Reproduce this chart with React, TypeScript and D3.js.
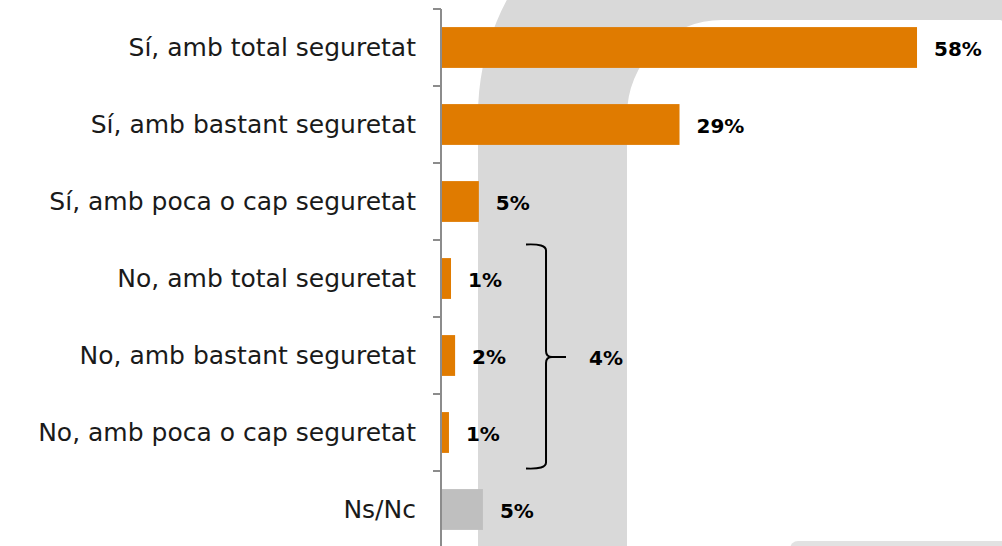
import React from "react";
import * as d3 from "d3";

const categories = [
  "Sí, amb total seguretat",
  "Sí, amb bastant seguretat",
  "Sí, amb poca o cap seguretat",
  "No, amb total seguretat",
  "No, amb bastant seguretat",
  "No, amb poca o cap seguretat",
  "Ns/Nc",
];
const values = [58, 29, 4.5, 1.1, 1.6, 0.85, 5];
const valueLabels = ["58%", "29%", "5%", "1%", "2%", "1%", "5%"];
const barColors = ["#E07B00", "#E07B00", "#E07B00", "#E07B00", "#E07B00", "#E07B00", "#BFBFBF"];
const groupCategories = ["No, amb total seguretat", "No, amb bastant seguretat", "No, amb poca o cap seguretat"];
const groupLabel = "4%";

const W = 1002;
const H = 546;
const FONT = "'DejaVu Sans', sans-serif";

export default function App() {
  const y = d3
    .scaleBand<string>()
    .domain(categories)
    .range([9, 548])
    .paddingInner(0.47)
    .paddingOuter(0.235);
  const x = d3.scaleLinear().domain([0, 100]).range([442, 1261]);
  const bw = y.bandwidth();
  const step = y.step();
  const ticks = d3.range(categories.length + 1).map((i) => 9 + i * step);

  const gTop = (y(groupCategories[0]) as number) + bw / 2 - 34;
  const gBot = (y(groupCategories[2]) as number) + bw / 2 + 36;
  const gMid = (y(groupCategories[1]) as number) + bw / 2 + 1.5;
  const bx = x(12.7);
  const bracket = d3.path();
  bracket.moveTo(bx - 20, gTop);
  bracket.quadraticCurveTo(bx, gTop - 1, bx, gTop + 6);
  bracket.lineTo(bx, gMid - 6);
  bracket.quadraticCurveTo(bx, gMid, bx + 6, gMid);
  bracket.lineTo(bx + 20, gMid);
  bracket.moveTo(bx + 6, gMid);
  bracket.quadraticCurveTo(bx, gMid, bx, gMid + 6);
  bracket.lineTo(bx, gBot - 6);
  bracket.quadraticCurveTo(bx, gBot + 1, bx - 20, gBot);

  return (
    <svg width={W} height={H} style={{ position: "absolute", left: 0, top: 0, background: "#fff" }}>
      <defs>
        <clipPath id="clipAll">
          <rect x={0} y={0} width={W} height={H} />
        </clipPath>
      </defs>
      <g clipPath="url(#clipAll)">
        <path
          fillRule="evenodd"
          fill="#D9D9D9"
          d={
            `M478,${-129 + 244} A244,244 0 0 1 722,-129 L1400,-129 L1400,800 L478,800 Z ` +
            `M627,115 A95,95 0 0 1 722,20 L1000,20 Q1004,20 1006,30 L1006,800 L627,800 Z`
          }
        />
        <rect x={790} y={541} width={400} height={30} rx={8} fill="#E2E2E2" />
      </g>
      {/* axis */}
      <line x1={441} x2={441} y1={9} y2={H} stroke="#8C8C8C" strokeWidth={2} />
      {ticks.map((t, i) => (
        <line key={i} x1={433} x2={441} y1={t} y2={t} stroke="#8C8C8C" strokeWidth={2} />
      ))}
      {categories.map((c, i) => (
        <g key={c}>
          <rect x={x(0)} y={y(c)} width={x(values[i]) - x(0)} height={bw} fill={barColors[i]} />
          <text
            x={416}
            y={(y(c) as number) + bw / 2}
            textAnchor="end"
            dominantBaseline="central"
            fontFamily={FONT}
            fontSize={25}
            fill="#1a1a1a"
          >
            {c}
          </text>
          <text
            x={x(values[i]) + 17}
            y={(y(c) as number) + bw / 2 + 1}
            dominantBaseline="central"
            fontFamily={FONT}
            fontWeight="bold"
            fontSize={20}
            fill="#000"
          >
            {valueLabels[i]}
          </text>
        </g>
      ))}
      <path d={bracket.toString()} fill="none" stroke="#000" strokeWidth={2} />
      <text
        x={bx + 43}
        y={gMid + 1}
        dominantBaseline="central"
        fontFamily={FONT}
        fontWeight="bold"
        fontSize={20}
        fill="#000"
      >
        {groupLabel}
      </text>
    </svg>
  );
}
